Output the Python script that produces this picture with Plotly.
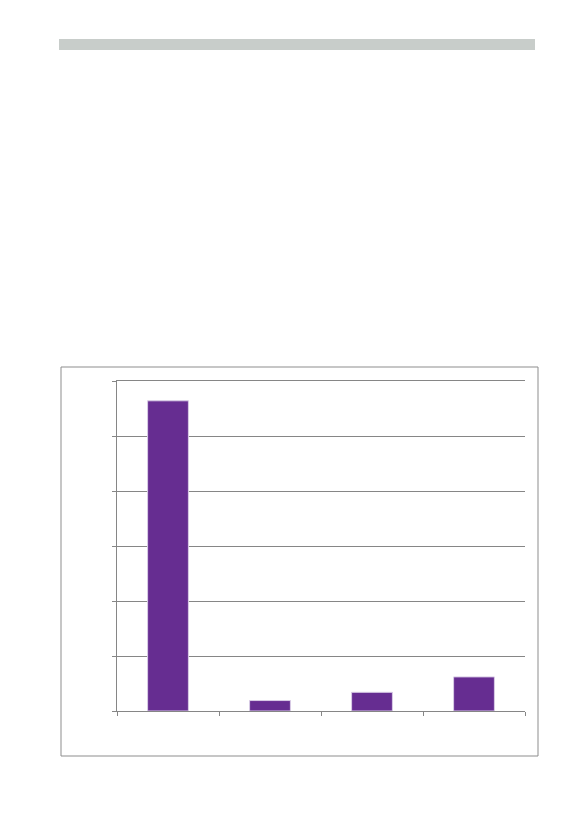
import plotly.graph_objects as go

# the page puts the figure 8px in from the top-left corner
OFF = 8
W, H = 583 - 2 * OFF, 827 - 2 * OFF

categories = ["1", "2", "3", "4"]
values = [5.64, 0.19, 0.34, 0.62]


def px_x(p):
    return (p - OFF) / W


def px_y(p):
    return 1 - (p - OFF) / H


fig = go.Figure()
fig.add_trace(go.Bar(
    x=categories, y=values,
    marker=dict(color="#662d91", line=dict(color="#d9cde6", width=1)),
))

# plot area in page pixels: x 117..525, y 381..711
fig.update_layout(
    width=W, height=H,
    margin=dict(l=0, r=0, t=0, b=0),
    paper_bgcolor="white", plot_bgcolor="white",
    showlegend=False, bargap=0.6,
    xaxis=dict(
        domain=[px_x(117), px_x(525)],
        showticklabels=False, showgrid=False,
        showline=True, mirror=True, linecolor="#868686", linewidth=1,
        ticks="outside", tickson="boundaries", ticklen=4, tickcolor="#868686",
    ),
    yaxis=dict(
        domain=[px_y(711), px_y(381)],
        range=[0, 6], dtick=1,
        showticklabels=False,
        showgrid=True, gridcolor="#868686", gridwidth=1,
        showline=True, linecolor="#868686", linewidth=1,
        ticks="outside", ticklen=4, tickcolor="#868686",
        zeroline=False,
    ),
    shapes=[
        # grey band at the top of the page
        dict(type="rect", xref="paper", yref="paper",
             x0=px_x(59), x1=px_x(535), y0=px_y(50), y1=px_y(39),
             fillcolor="#c8cdca", line=dict(width=0), layer="below"),
        # chart frame
        dict(type="rect", xref="paper", yref="paper",
             x0=px_x(61), x1=px_x(538), y0=px_y(756), y1=px_y(367),
             line=dict(color="#8d8d8d", width=1), layer="below"),
    ],
)

fig.write_html("out.html")
